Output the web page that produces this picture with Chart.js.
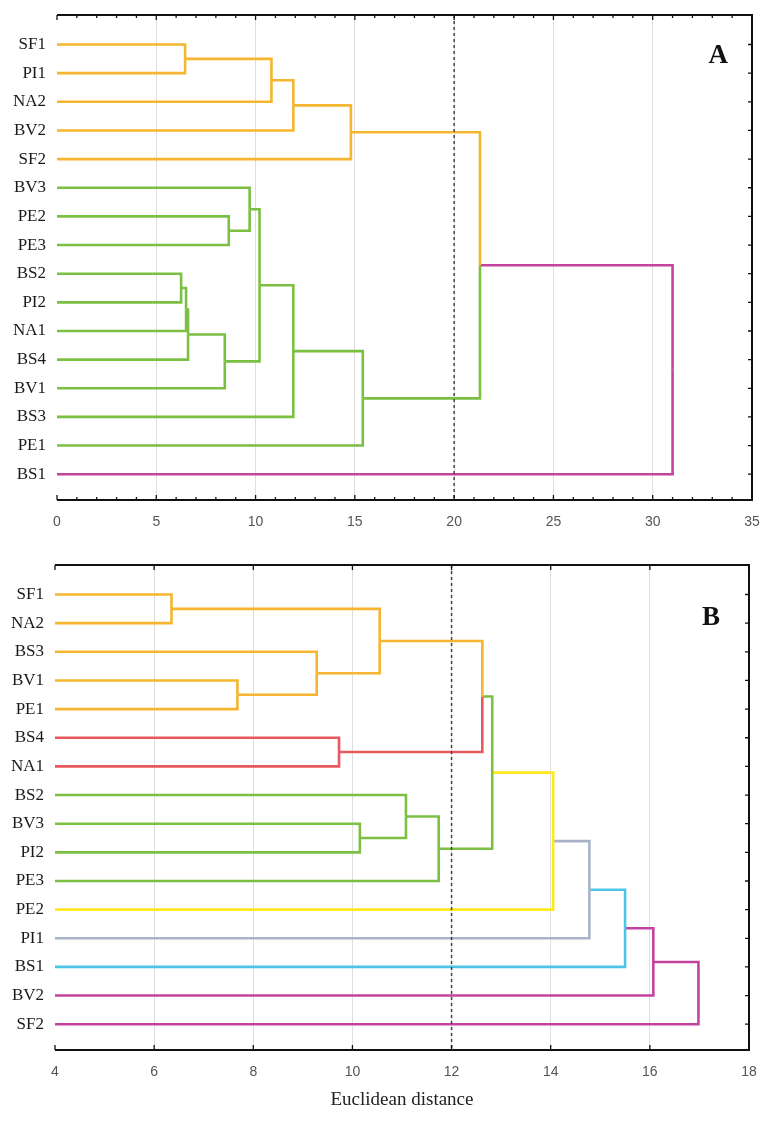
<!DOCTYPE html>
<html>
<head>
<meta charset="utf-8">
<script src="https://cdn.jsdelivr.net/npm/chart.js@4.4.1/dist/chart.umd.min.js"></script>
<style>
  body { margin: 0; background: #fff; }
  .panel { position: absolute; left: 0; width: 763px; }
  #wrapA { top: 0; height: 535px; }
  #wrapB { top: 545px; height: 577px; }
</style>
</head>
<body>
<div class="panel" id="wrapA"><canvas id="chartA"></canvas></div>
<div class="panel" id="wrapB"><canvas id="chartB"></canvas></div>
<script>
// ---- panel A ----
const leavesA = ['SF1', 'PI1', 'NA2', 'BV2', 'SF2', 'BV3', 'PE2', 'PE3', 'BS2', 'PI2', 'NA1', 'BS4', 'BV1', 'BS3', 'PE1', 'BS1'];
const leafGroupsA = ['orange', 'orange', 'orange', 'orange', 'orange', 'green', 'green', 'green', 'green', 'green', 'green', 'green', 'green', 'green', 'green', 'magenta'];
// [child, child, distance]; merge i is called 'm' + i
const mergesA = [
  ['SF1', 'PI1', 6.45],
  ['m0', 'NA2', 10.8],
  ['m1', 'BV2', 11.9],
  ['m2', 'SF2', 14.8],
  ['PE2', 'PE3', 8.65],
  ['BV3', 'm4', 9.7],
  ['BS2', 'PI2', 6.25],
  ['m6', 'NA1', 6.5],
  ['m7', 'BS4', 6.6],
  ['m8', 'BV1', 8.45],
  ['m5', 'm9', 10.2],
  ['m10', 'BS3', 11.9],
  ['m11', 'PE1', 15.4],
  ['m3', 'm12', 21.3],
  ['m13', 'BS1', 31.0]
];
const mergeGroupsA = ['orange', 'orange', 'orange', 'orange', 'green', 'green', 'green', 'green', 'green', 'green', 'green', 'green', 'green', 'magenta', 'magenta'];
const cutA = 20;
const xTicksA = [0, 5, 10, 15, 20, 25, 30, 35];

// ---- panel B ----
const leavesB = ['SF1', 'NA2', 'BS3', 'BV1', 'PE1', 'BS4', 'NA1', 'BS2', 'BV3', 'PI2', 'PE3', 'PE2', 'PI1', 'BS1', 'BV2', 'SF2'];
const leafGroupsB = ['orange', 'orange', 'orange', 'orange', 'orange', 'red', 'red', 'green', 'green', 'green', 'green', 'yellow', 'grey', 'cyan', 'magenta', 'magenta'];
const mergesB = [
  ['SF1', 'NA2', 6.35],
  ['BV1', 'PE1', 7.68],
  ['BS3', 'm1', 9.28],
  ['m0', 'm2', 10.55],
  ['BS4', 'NA1', 9.73],
  ['m3', 'm4', 12.62],
  ['BV3', 'PI2', 10.15],
  ['BS2', 'm6', 11.08],
  ['m7', 'PE3', 11.74],
  ['m5', 'm8', 12.82],
  ['m9', 'PE2', 14.05],
  ['m10', 'PI1', 14.78],
  ['m11', 'BS1', 15.5],
  ['m12', 'BV2', 16.07],
  ['m13', 'SF2', 16.98]
];
const mergeGroupsB = ['orange', 'orange', 'orange', 'orange', 'red', 'green', 'green', 'green', 'green', 'yellow', 'grey', 'cyan', 'magenta', 'magenta', 'magenta'];
const cutB = 12;
const xTicksB = [4, 6, 8, 10, 12, 14, 16, 18];

const palette = {
  orange: '#F5B52E',
  green: '#7CC043',
  magenta: '#C2449E',
  red: '#E8585F',
  yellow: '#FFE81E',
  grey: '#A9B3C7',
  cyan: '#4DC3E6'
};

const serif = "'Liberation Serif', 'Times New Roman', serif";
const sans = "'Liberation Sans', Arial, sans-serif";
const rowMin = -1.03, rowMax = 15.9;

// each child gets an L-shaped path: its own horizontal, then half of the parent's vertical
function dendrogramSets(leaves, leafGroups, merges, mergeGroups, xMin) {
  const nodes = {};
  leaves.forEach((name, i) => { nodes[name] = { y: i, h: xMin, group: leafGroups[i] }; });
  merges.forEach(([a, b, h], i) => {
    const node = { y: (nodes[a].y + nodes[b].y) / 2, h: h, group: mergeGroups[i] };
    nodes[a].parent = node;
    nodes[b].parent = node;
    nodes['m' + i] = node;
  });
  const sets = [];
  Object.values(nodes).forEach(n => {
    if (!n.parent) return;
    sets.push({
      data: [
        { x: n.h, y: n.y },
        { x: n.parent.h, y: n.y },
        { x: n.parent.h, y: n.parent.y }
      ],
      showLine: true,
      borderColor: palette[n.group],
      borderWidth: 2.6,
      borderJoinStyle: 'miter',
      borderCapStyle: 'butt',
      pointRadius: 0,
      fill: false
    });
  });
  return sets;
}

const framePlugin = {
  id: 'frame',
  afterDatasetsDraw(chart, args, opts) {
    const { ctx, chartArea: a, scales: { x, y } } = chart;
    ctx.save();
    ctx.strokeStyle = '#111';
    ctx.lineWidth = 2;
    ctx.beginPath();
    ctx.moveTo(a.left, a.top);
    ctx.lineTo(a.right, a.top);
    ctx.lineTo(a.right, a.bottom);
    ctx.lineTo(a.left, a.bottom);
    ctx.stroke();

    ctx.lineWidth = 1.3;
    ctx.beginPath();
    const majors = x.ticks.map(t => t.value);
    for (let v = x.min; v <= x.max + 1e-6; v += opts.minorStep) {
      const px = x.getPixelForValue(v);
      const len = majors.some(m => Math.abs(m - v) < 1e-6) ? 5 : 3;
      ctx.moveTo(px, a.top);
      ctx.lineTo(px, a.top + len);
      ctx.moveTo(px, a.bottom);
      ctx.lineTo(px, a.bottom - len);
    }
    y.ticks.forEach(t => {
      const py = y.getPixelForValue(t.value);
      ctx.moveTo(a.right, py);
      ctx.lineTo(a.right - 4, py);
    });
    ctx.stroke();

    ctx.fillStyle = '#111';
    ctx.font = 'bold 27px ' + serif;
    ctx.textAlign = 'right';
    ctx.textBaseline = 'alphabetic';
    ctx.fillText(opts.letter, a.right - opts.dx, a.top + opts.dy);
    ctx.restore();
  }
};

function noEdgePadding(s) {
  s.paddingLeft = 0;
  s.paddingRight = 0;
  s.paddingTop = 0;
  s.paddingBottom = 0;
}

function makeChart(id, leaves, leafGroups, merges, mergeGroups, cut, xTicks, extra) {
  const xMin = xTicks[0], xMax = xTicks[xTicks.length - 1];
  const cutSet = {
    data: [{ x: cut, y: rowMin }, { x: cut, y: rowMax }],
    showLine: true,
    borderColor: '#444',
    borderWidth: 1.5,
    borderDash: [3, 3],
    pointRadius: 0
  };
  return new Chart(document.getElementById(id), {
    type: 'scatter',
    data: { datasets: [cutSet].concat(dendrogramSets(leaves, leafGroups, merges, mergeGroups, xMin)) },
    options: {
      responsive: true,
      maintainAspectRatio: false,
      animation: false,
      layout: { padding: { top: extra.top, right: extra.right, left: 0, bottom: 0 } },
      plugins: {
        legend: { display: false },
        tooltip: { enabled: false },
        frame: { letter: extra.letter, dx: extra.dx, dy: extra.dy, minorStep: extra.minorStep }
      },
      scales: {
        x: {
          type: 'linear',
          min: xMin,
          max: xMax,
          afterBuildTicks: s => { s.ticks = xTicks.map(v => ({ value: v })); },
          afterFit: s => { s.height = extra.xHeight; noEdgePadding(s); },
          ticks: {
            color: '#555',
            font: { family: sans, size: 14 },
            padding: 14,
            maxRotation: 0
          },
          grid: {
            drawTicks: false,
            color: c => (c.tick && c.tick.value === xMin) ? 'rgba(0,0,0,0)' : '#dedede',
            lineWidth: 1
          },
          border: { display: false },
          title: {
            display: !!extra.title,
            text: extra.title || '',
            color: '#222',
            font: { family: serif, size: 19 },
            padding: { top: 0, bottom: 11 }
          }
        },
        y: {
          type: 'linear',
          reverse: true,
          min: rowMin,
          max: rowMax,
          afterBuildTicks: s => { s.ticks = leaves.map((_, i) => ({ value: i })); },
          afterFit: s => { s.width = extra.yWidth; noEdgePadding(s); },
          ticks: {
            color: '#1a1a1a',
            font: { family: serif, size: 17 },
            padding: 11,
            callback: v => leaves[v]
          },
          grid: { display: false, drawTicks: false },
          border: { display: false }
        }
      }
    },
    plugins: [framePlugin]
  });
}

makeChart('chartA', leavesA, leafGroupsA, mergesA, mergeGroupsA, cutA, xTicksA,
  { top: 15, right: 11, yWidth: 57, xHeight: 35, letter: 'A', dx: 24, dy: 48, minorStep: 1 });
makeChart('chartB', leavesB, leafGroupsB, mergesB, mergeGroupsB, cutB, xTicksB,
  { top: 20, right: 14, yWidth: 55, xHeight: 72, letter: 'B', dx: 29, dy: 60, minorStep: 2, title: 'Euclidean distance' });
</script>
</body>
</html>
